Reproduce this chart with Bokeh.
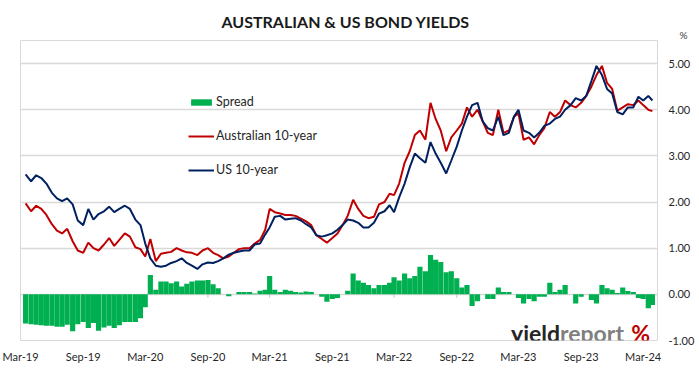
import pandas as pd
from bokeh.plotting import figure
from bokeh.models import (Range1d, FixedTicker, NumeralTickFormatter,
                          Legend, LegendItem, Label, Title, ColumnDataSource)
from bokeh.embed import file_html
from bokeh.resources import INLINE

# ---------------- data ----------------
dates = [
    "2019-03-16", "2019-04-01", "2019-04-16", "2019-05-01", "2019-05-16", "2019-06-01", "2019-06-16",
    "2019-07-01", "2019-07-16", "2019-08-01", "2019-08-16", "2019-09-01", "2019-09-16", "2019-10-01",
    "2019-10-16", "2019-11-01", "2019-11-16", "2019-12-01", "2019-12-16",
    "2020-01-01", "2020-01-16", "2020-02-01", "2020-02-16", "2020-03-01", "2020-03-16", "2020-04-01",
    "2020-04-16", "2020-05-01", "2020-05-16", "2020-06-01", "2020-06-16", "2020-07-01", "2020-07-16",
    "2020-08-01", "2020-08-16", "2020-09-01", "2020-09-16", "2020-10-01", "2020-10-16", "2020-11-01",
    "2020-11-16", "2020-12-01", "2020-12-16",
    "2021-01-01", "2021-01-16", "2021-02-01", "2021-02-16", "2021-03-01", "2021-03-16", "2021-04-01",
    "2021-04-16", "2021-05-01", "2021-05-16", "2021-06-01", "2021-06-16", "2021-07-01", "2021-07-16",
    "2021-08-01", "2021-08-16", "2021-09-01", "2021-09-16", "2021-10-01", "2021-10-16", "2021-11-01",
    "2021-11-16", "2021-12-01", "2021-12-16",
    "2022-01-01", "2022-01-16", "2022-02-01", "2022-02-16", "2022-03-01", "2022-03-16", "2022-04-01",
    "2022-04-16", "2022-05-01", "2022-05-16", "2022-06-01", "2022-06-16", "2022-07-01", "2022-07-16",
    "2022-08-01", "2022-08-16", "2022-09-01", "2022-09-16", "2022-10-01", "2022-10-16", "2022-11-01",
    "2022-11-16", "2022-12-01", "2022-12-16",
    "2023-01-01", "2023-01-16", "2023-02-01", "2023-02-16", "2023-03-01", "2023-03-16", "2023-04-01",
    "2023-04-16", "2023-05-01", "2023-05-16", "2023-06-01", "2023-06-16", "2023-07-01", "2023-07-16",
    "2023-08-01", "2023-08-16", "2023-09-01", "2023-09-16", "2023-10-01", "2023-10-16", "2023-11-01",
    "2023-11-16", "2023-12-01", "2023-12-16",
    "2024-01-01", "2024-01-16", "2024-02-01", "2024-02-16", "2024-03-01", "2024-03-16", "2024-03-28",
]

au_10y = [
    1.97, 1.80, 1.92, 1.85, 1.72, 1.52, 1.38, 1.32, 1.42, 1.15, 0.95, 0.90, 1.12, 1.00,
    0.95, 1.08, 1.22, 1.05, 1.18,
    1.32, 1.25, 1.02, 0.98, 0.82, 1.20, 0.72, 0.88, 0.90, 0.92, 1.00, 0.95, 0.91, 0.90,
    0.85, 0.95, 1.00, 0.90, 0.85, 0.78, 0.82, 0.90, 0.98, 1.00,
    1.00, 1.10, 1.18, 1.40, 1.85, 1.78, 1.75, 1.72, 1.72, 1.70, 1.64, 1.58, 1.50, 1.28,
    1.20, 1.12, 1.22, 1.32, 1.50, 1.70, 2.05, 1.85, 1.70, 1.65,
    1.68, 1.95, 2.00, 2.18, 2.15, 2.40, 2.85, 3.10, 3.45, 3.55, 3.35, 4.15, 3.80, 3.55,
    3.10, 3.40, 3.55, 3.70, 4.05, 3.85, 4.00, 3.75, 3.50, 3.45,
    4.00, 3.50, 3.55, 3.85, 3.92, 3.35, 3.40, 3.25, 3.45, 3.60, 3.95, 3.85, 3.95, 4.20,
    4.10, 4.05, 4.15, 4.30, 4.50, 4.75, 4.95, 4.58, 4.45, 3.98,
    4.05, 4.12, 4.10, 4.20, 4.10, 4.00, 3.97,
]

us_10y = [
    2.60, 2.45, 2.58, 2.52, 2.40, 2.20, 2.08, 2.02, 2.08, 1.95, 1.60, 1.50, 1.85, 1.62,
    1.74, 1.80, 1.90, 1.78, 1.85,
    1.92, 1.85, 1.62, 1.50, 1.10, 0.78, 0.62, 0.60, 0.62, 0.68, 0.72, 0.78, 0.68, 0.62,
    0.55, 0.65, 0.69, 0.68, 0.72, 0.78, 0.86, 0.90, 0.93, 0.95,
    0.95, 1.08, 1.10, 1.30, 1.45, 1.68, 1.70, 1.62, 1.64, 1.65, 1.60, 1.52, 1.45, 1.28,
    1.25, 1.28, 1.32, 1.40, 1.50, 1.62, 1.60, 1.55, 1.45, 1.45,
    1.55, 1.75, 1.80, 1.93, 1.78, 2.10, 2.40, 2.75, 3.05, 2.95, 2.85, 3.30, 3.05, 2.85,
    2.62, 2.90, 3.20, 3.55, 3.85, 4.10, 4.15, 3.75, 3.60, 3.55,
    3.85, 3.45, 3.50, 3.85, 4.00, 3.55, 3.50, 3.40, 3.50, 3.65, 3.70, 3.80, 3.85, 4.00,
    4.10, 4.25, 4.20, 4.30, 4.62, 4.95, 4.75, 4.45, 4.35, 3.95,
    3.90, 4.05, 4.05, 4.28, 4.20, 4.30, 4.20,
]

x_tick_dates = ["2019-03-01", "2019-09-01", "2020-03-01", "2020-09-01", "2021-03-01", "2021-09-01",
                "2022-03-01", "2022-09-01", "2023-03-01", "2023-09-01", "2024-03-01"]
x_tick_labels = ["Mar-19", "Sep-19", "Mar-20", "Sep-20", "Mar-21", "Sep-21",
                 "Mar-22", "Sep-22", "Mar-23", "Sep-23", "Mar-24"]
y_ticks = [-1, 0, 1, 2, 3, 4, 5]

# ---------------- build ----------------
dt = pd.to_datetime(dates)
spread = [round(a - u, 2) for a, u in zip(au_10y, us_10y)]
src = ColumnDataSource(dict(date=dt, au=au_10y, us=us_10y, spread=spread))

FONT = "Lato"
GRID = "#D9D9D9"

p = figure(width=697, height=376, output_backend="svg", toolbar_location=None,
           x_axis_type="datetime", y_axis_location="right", title=None,
           x_range=Range1d(pd.Timestamp("2019-03-01"), pd.Timestamp("2024-04-12")),
           y_range=Range1d(-1, 5.5),
           min_border_left=20, min_border_right=37, min_border_top=40, min_border_bottom=36)

# unit label "%" sits just above the plot area, over the value axis
p.add_layout(Title(text="%", align="right", offset=-30, standoff=0, text_font=FONT,
                   text_font_size="10px", text_font_style="normal", text_color="#404040"), "above")
p.add_layout(Title(text="AUSTRALIAN & US BOND YIELDS", align="left", offset=201, standoff=-9,
                   text_font=FONT, text_font_size="16px", text_font_style="bold",
                   text_color="#1a1a1a"), "above")

p.outline_line_color = GRID
p.outline_line_width = 1
p.background_fill_color = "white"
p.border_fill_color = "white"

p.xgrid.visible = False
p.ygrid.ticker = FixedTicker(ticks=y_ticks)
p.ygrid.grid_line_color = GRID
p.ygrid.grid_line_width = 1.5

tick_ms = [pd.Timestamp(d).value // 10**6 for d in x_tick_dates]
p.xaxis.ticker = FixedTicker(ticks=tick_ms)
p.xaxis.major_label_overrides = {t: lab for t, lab in zip(tick_ms, x_tick_labels)}
p.xaxis.axis_line_color = None
p.xaxis.major_tick_line_color = None
p.xaxis.minor_tick_line_color = None
p.xaxis.major_tick_out = 0
p.xaxis.major_tick_in = 0
p.xaxis.minor_tick_out = 0
p.xaxis.major_label_standoff = 9
p.xaxis.major_label_text_font = FONT
p.xaxis.major_label_text_font_size = "11px"
p.xaxis.major_label_text_color = "#262626"

p.yaxis.ticker = FixedTicker(ticks=y_ticks)
p.yaxis.formatter = NumeralTickFormatter(format="0.00")
p.yaxis.axis_line_color = None
p.yaxis.major_tick_line_color = None
p.yaxis.minor_tick_line_color = None
p.yaxis.major_tick_out = 0
p.yaxis.major_tick_in = 0
p.yaxis.minor_tick_out = 0
p.yaxis.major_label_standoff = 11
p.yaxis.major_label_text_font = FONT
p.yaxis.major_label_text_font_size = "11px"
p.yaxis.major_label_text_color = "#262626"

# small tick marks on the zero-crossing category axis
p.segment(x0=pd.to_datetime(x_tick_dates), y0=0, x1=pd.to_datetime(x_tick_dates), y1=-0.07,
          line_color="#BFBFBF", line_width=1)

bar_w = 15.2 * 24 * 3600 * 1000
bars = p.vbar(x="date", top="spread", bottom=0, width=bar_w, source=src,
              fill_color="#00B050", line_color=None)
au_line = p.line(x="date", y="au", source=src, line_color="#C00000", line_width=2)
us_line = p.line(x="date", y="us", source=src, line_color="#002060", line_width=2)

legend = Legend(items=[LegendItem(label="Spread", renderers=[bars]),
                       LegendItem(label="Australian 10-year", renderers=[au_line]),
                       LegendItem(label="US 10-year", renderers=[us_line])],
                location=(168, 163), orientation="vertical",
                glyph_width=26, glyph_height=8, label_height=14, spacing=19,
                label_standoff=2, padding=0, margin=0,
                border_line_color=None, background_fill_alpha=0,
                label_text_font=FONT, label_text_font_size="12.5px", label_text_color="#262626")
p.add_layout(legend)

# watermark
wm_y = -0.845
p.add_layout(Label(x=pd.Timestamp("2023-07-01"), y=wm_y, text="yield", text_align="right",
                   text_baseline="alphabetic", text_font=FONT, text_font_size="23px",
                   text_font_style="bold", text_color="#262626"))
p.add_layout(Label(x=pd.Timestamp("2023-07-01"), y=wm_y, text="report", text_align="left",
                   text_baseline="alphabetic", text_font=FONT, text_font_size="23px",
                   text_font_style="bold", text_color="#7F7F7F"))
p.add_layout(Label(x=pd.Timestamp("2024-01-26"), y=wm_y, text="%", text_align="left",
                   text_baseline="alphabetic", text_font=FONT, text_font_size="23px",
                   text_font_style="bold", text_color="#C00000"))

open("out.html", "w").write(file_html(p, INLINE))
